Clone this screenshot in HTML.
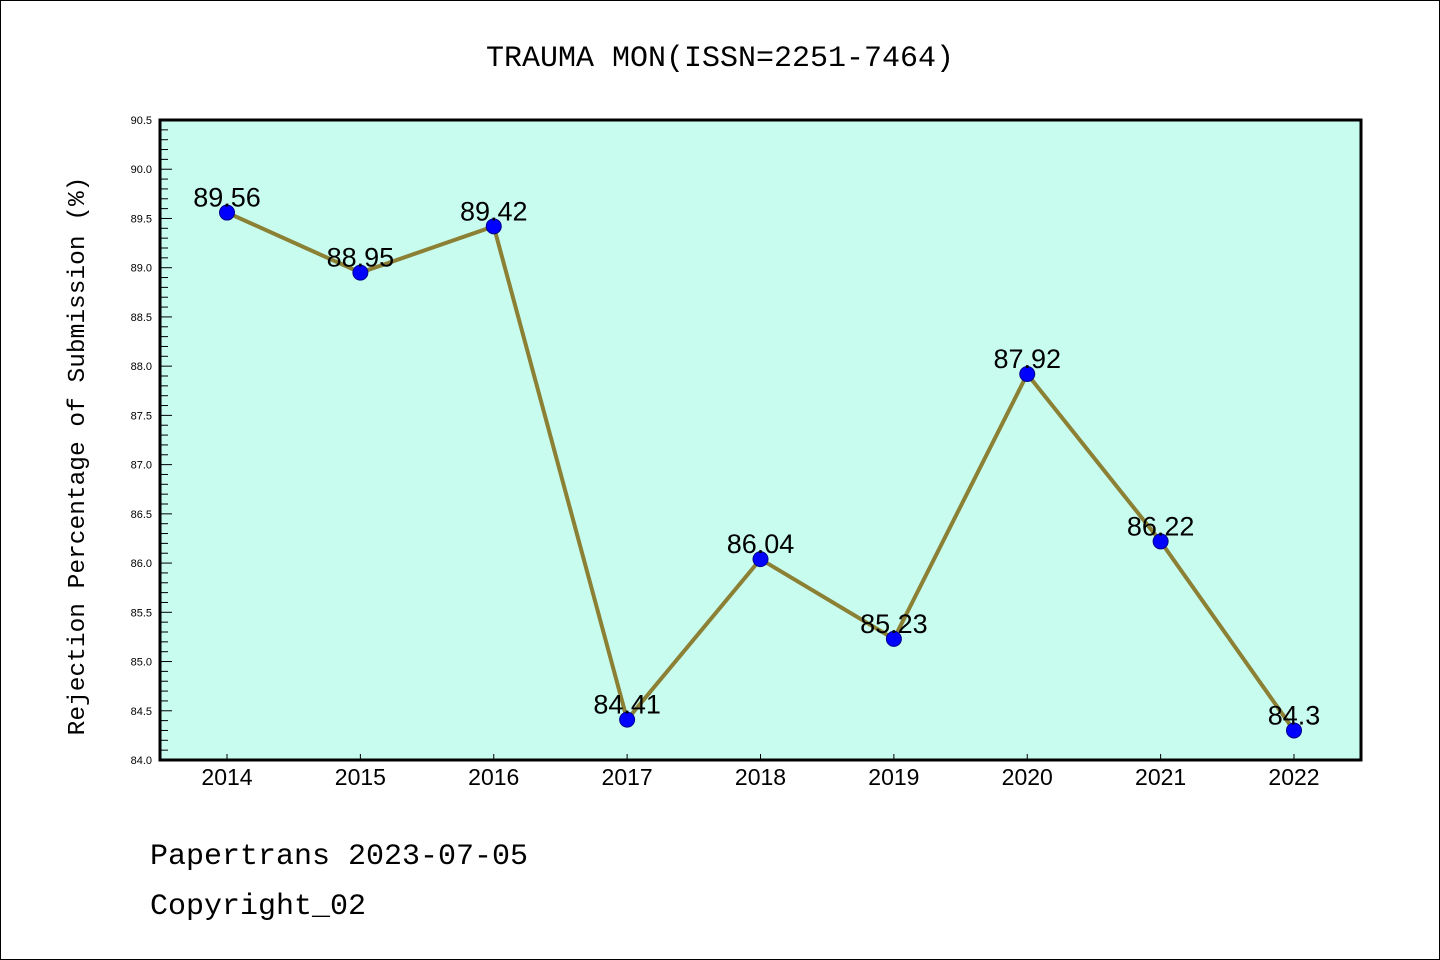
<!DOCTYPE html>
<html><head><meta charset="utf-8"><style>
body{margin:0;background:#fff}
svg{display:block}
text{font-family:"Liberation Sans","DejaVu Sans",sans-serif}
.mono{font-family:"Liberation Mono","DejaVu Sans Mono",monospace}
</style></head><body>
<svg id="chart" width="1440" height="960" xmlns="http://www.w3.org/2000/svg">
<rect x="0.5" y="0.5" width="1439" height="959" fill="#fff" stroke="#000"/>
<text class="mono" x="720" y="66" font-size="30" text-anchor="middle">TRAUMA MON(ISSN=2251-7464)</text>
<rect x="160" y="120" width="1201" height="640" fill="#c8fcee"/>
<g id="yaxis"></g>
<g id="xaxis"></g>
<g id="series"></g>
<rect x="160" y="120" width="1201" height="640" fill="none" stroke="#000" stroke-width="3"/>
<text class="mono" transform="translate(84,456) rotate(-90)" font-size="24.5" text-anchor="middle">Rejection Percentage of Submission (%)</text>
<text class="mono" x="150" y="864" font-size="30">Papertrans 2023-07-05</text>
<text class="mono" x="150" y="914" font-size="30">Copyright_02</text>
</svg>
<script>
const years = ["2014","2015","2016","2017","2018","2019","2020","2021","2022"];
const values = [89.56, 88.95, 89.42, 84.41, 86.04, 85.23, 87.92, 86.22, 84.3];
const valueLabels = ["89.56","88.95","89.42","84.41","86.04","85.23","87.92","86.22","84.3"];
const yTicks = ["84.0","84.5","85.0","85.5","86.0","86.5","87.0","87.5","88.0","88.5","89.0","89.5","90.0","90.5"];
const NS="http://www.w3.org/2000/svg";
const yMin=84.0,yMax=90.5,plotTop=120,plotBot=760;
function yPos(v){return plotBot-(v-yMin)/(yMax-yMin)*(plotBot-plotTop);}
function xPos(i){return 227+i*(1294-227)/(years.length-1);}
function mk(t,a,p){const e=document.createElementNS(NS,t);for(const k in a)e.setAttribute(k,a[k]);p.appendChild(e);return e;}
const ya=document.getElementById('yaxis'),xa=document.getElementById('xaxis'),sg=document.getElementById('series');
for(let k=0;k<=65;k++){const v=yMin+k*0.1;const major=k%5===0;
 const l=mk('line',{x1:160,x2:160+(major?12:8),y1:yPos(v),y2:yPos(v),stroke:'#000','stroke-width':1},ya);
 
 }
yTicks.forEach(t=>{const e=mk('text',{x:152,y:yPos(parseFloat(t))+4,'font-size':11,'text-anchor':'end'},ya);e.textContent=t;
 
 });
years.forEach((yr,i)=>{const l=mk('line',{x1:xPos(i),x2:xPos(i),y1:plotBot,y2:plotBot-6,stroke:'#000'},xa);
 
 
 const t=mk('text',{x:xPos(i),y:785,'font-size':23,'text-anchor':'middle'},xa);t.textContent=yr;
 
 });
const pl=mk('polyline',{points:values.map((v,i)=>xPos(i)+','+yPos(v)).join(' '),fill:'none',stroke:'#8b8034','stroke-width':4},sg);


values.forEach((v,i)=>{const c=mk('circle',{cx:xPos(i),cy:yPos(v),r:7.5,fill:'#0000ff',stroke:'#00008b','stroke-width':1},sg);
 
 
 const t=mk('text',{x:xPos(i),y:yPos(v)-6,'font-size':27,'text-anchor':'middle'},sg);t.textContent=valueLabels[i];
 
 });
</script>
</body></html>
